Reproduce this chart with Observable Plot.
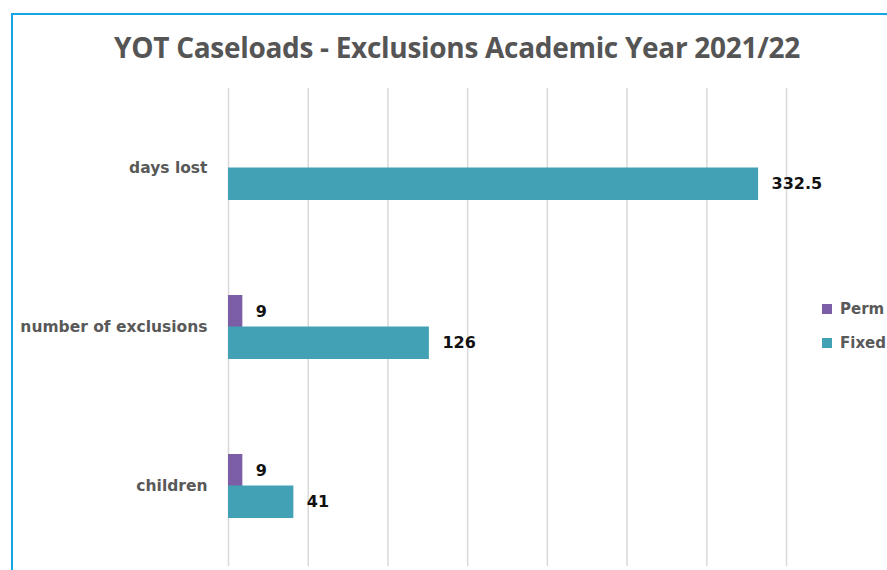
<!DOCTYPE html>
<html>
<head>
<meta charset="utf-8">
<script src="https://cdn.jsdelivr.net/npm/d3@7"></script>
<script src="https://cdn.jsdelivr.net/npm/@observablehq/plot@0.6"></script>
<style>
  html, body { margin: 0; padding: 0; background: #fff; }
  #wrap { position: relative; width: 887px; height: 570px; overflow: hidden; background: #fff; }
  #frame { position: absolute; left: 11px; top: 13px; width: 900px; height: 600px; border: 2px solid #14a5e6; box-sizing: border-box; }
  #title { position: absolute; left: 0; top: 28px; width: 914px; text-align: center; font-family: "Open Sans", sans-serif; font-weight: bold; font-size: 28px; color: #555; letter-spacing: -0.3px; white-space: nowrap; }
  #chart { position: absolute; left: 0; top: 0; }
  #legend { position: absolute; left: 822px; top: 300px; font-family: "DejaVu Sans", Verdana, sans-serif; font-weight: bold; font-size: 15px; color: #595959; }
  .item { display: flex; align-items: center; height: 18px; margin-bottom: 16px; }
  .sw { width: 10px; height: 10px; margin-right: 8px; }
</style>
</head>
<body>
<div id="wrap">
  <div id="frame"></div>
  <div id="chart"></div>
  <div id="title"></div>
  <div id="legend"></div>
</div>
<script>
const title = "YOT Caseloads - Exclusions Academic Year 2021/22";
const categories = ["days lost", "number of exclusions", "children"];
const series = ["Perm", "Fixed"];
const permValues = [null, 9, 9];
const fixedValues = [332.5, 126, 41];
const xTicks = [0, 50, 100, 150, 200, 250, 300, 350];
const colors = ["#7b5ea6", "#42a1b5"];

document.getElementById("title").textContent = title;

const perm = categories.map((c, i) => ({category: c, value: permValues[i]})).filter(d => d.value != null);
const fixed = categories.map((c, i) => ({category: c, value: fixedValues[i]})).filter(d => d.value != null);

const half = 63 / 2;
const labelFont = "DejaVu Sans, Verdana, sans-serif";

const chart = Plot.plot({
  width: 887,
  height: 570,
  marginLeft: 228,
  marginRight: 101,
  marginTop: 88,
  marginBottom: 4,
  x: {domain: [0, 350], axis: null},
  y: {domain: categories, paddingInner: 0.6, paddingOuter: 0.3, label: null, tickSize: 0, tickPadding: 21},
  style: {fontFamily: labelFont, background: "transparent"},
  marks: [
    Plot.ruleX(xTicks, {stroke: "#d9d9d9", strokeWidth: 1.5}),
    Plot.barX(perm, {x: "value", y: "category", fill: colors[0], insetBottom: half}),
    Plot.barX(fixed, {x: "value", y: "category", fill: colors[1], insetTop: half}),
    Plot.text(perm, {x: "value", y: "category", text: d => String(d.value), dx: 13, dy: -half / 2, textAnchor: "start", fontWeight: "bold", fontSize: 16, fill: "#111"}),
    Plot.text(fixed, {x: "value", y: "category", text: d => String(d.value), dx: 13, dy: half / 2, textAnchor: "start", fontWeight: "bold", fontSize: 16, fill: "#111"}),
    Plot.axisY({tickSize: 0, tickPadding: 21, fontSize: 15.5, fontWeight: "bold", fill: "#595959", label: null})
  ]
});
document.getElementById("chart").appendChild(chart);

const legend = document.getElementById("legend");
series.forEach((s, i) => {
  const item = document.createElement("div");
  item.className = "item";
  const sw = document.createElement("div");
  sw.className = "sw";
  sw.style.background = colors[i];
  const t = document.createElement("span");
  t.textContent = s;
  item.appendChild(sw);
  item.appendChild(t);
  legend.appendChild(item);
});
</script>
</body>
</html>
